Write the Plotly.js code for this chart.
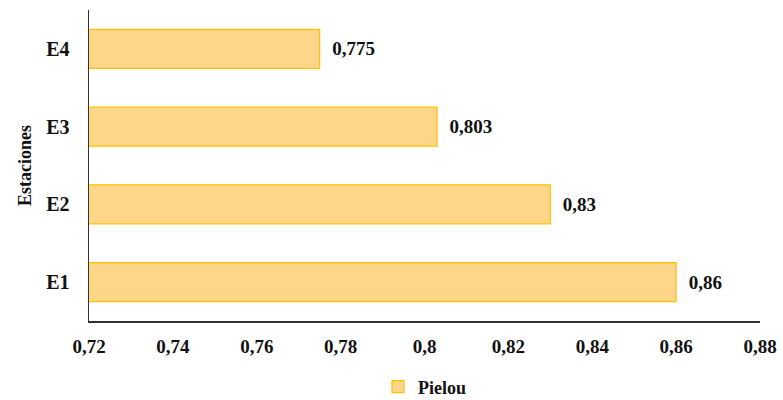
<!DOCTYPE html>
<html>
<head>
<meta charset="utf-8">
<script src="https://cdn.plot.ly/plotly-3.0.1.min.js"></script>
<style>html,body{margin:0;padding:0;background:#fff;}#chart{width:783px;height:400px;}</style>
</head>
<body>
<div id="chart"></div>
<script>
var estaciones = ["E1", "E2", "E3", "E4"];
var pielou = [0.86, 0.83, 0.803, 0.775];
var tickValues = [0.72, 0.74, 0.76, 0.78, 0.8, 0.82, 0.84, 0.86, 0.88];
var tickLabels = ["0,72", "0,74", "0,76", "0,78", "0,8", "0,82", "0,84", "0,86", "0,88"];
var valueLabels = ["0,86", "0,83", "0,803", "0,775"];

var font = "Liberation Serif, Times New Roman, serif";

var trace = {
  type: "bar",
  orientation: "h",
  name: "Pielou",
  y: estaciones,
  x: pielou,
  base: 0,
  text: valueLabels,
  textposition: "outside",
  texttemplate: "  <b>%{text}</b>",
  cliponaxis: false,
  textfont: {family: font, size: 19, color: "#111"},
  marker: {color: "#FDD68A", line: {color: "#FFC000", width: 1.2}},
  width: 0.5,
  hoverinfo: "none"
};

var layout = {
  width: 783,
  height: 400,
  margin: {l: 89, r: 23, t: 10, b: 79, autoexpand: false},
  paper_bgcolor: "#fff",
  plot_bgcolor: "#fff",
  font: {family: font, color: "#111"},
  showlegend: true,
  legend: {
    orientation: "h",
    x: 0.5, xanchor: "center",
    y: -0.212, yanchor: "middle",
    font: {family: font, size: 18, color: "#111", weight: "bold"},
    itemwidth: 30
  },
  xaxis: {
    range: [0.72, 0.88],
    tickvals: tickValues,
    ticktext: tickLabels,
    tickfont: {family: font, size: 19, color: "#111", weight: "bold"},
    showgrid: false,
    zeroline: false,
    showline: true,
    linecolor: "#333",
    linewidth: 1.5,
    ticks: "",
    ticklabelstandoff: 8,
    automargin: false
  },
  yaxis: {
    tickfont: {family: font, size: 20, color: "#111", weight: "bold"},
    showgrid: false,
    zeroline: false,
    showline: true,
    linecolor: "#333",
    linewidth: 1.5,
    ticks: "",
    ticklabelstandoff: 14,
    automargin: false,
    title: {text: "<b>Estaciones</b>", font: {family: font, size: 18, color: "#111"}, standoff: 10}
  }
};

Plotly.newPlot("chart", [trace], layout, {displayModeBar: false, staticPlot: true});
</script>
</body>
</html>
